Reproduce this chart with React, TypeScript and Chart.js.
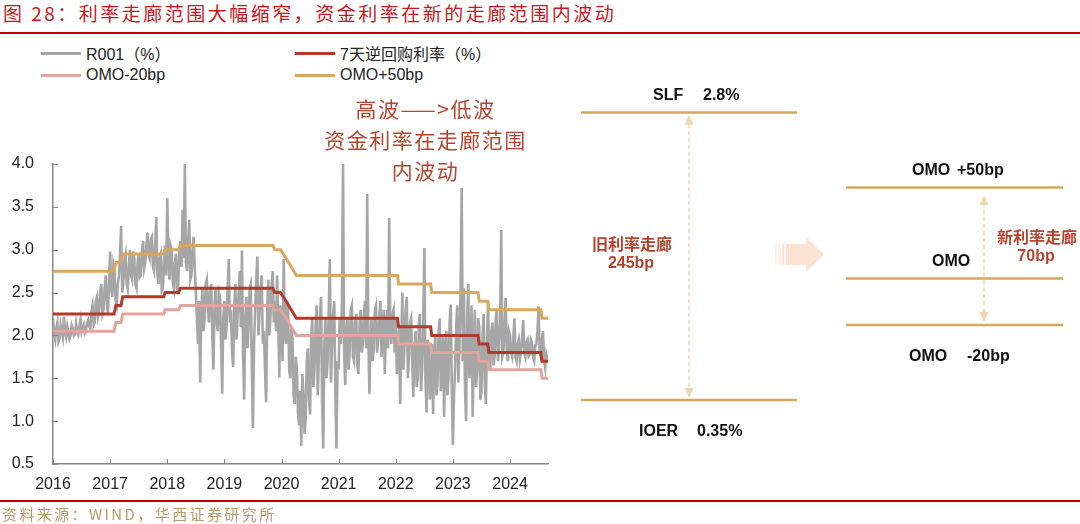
import React, { useEffect, useRef } from "react";
import { Chart, registerables } from "chart.js";

Chart.register(...registerables);

// ---------- data ----------
const xStart = 2016;
const xEnd = 2024.67;
const yearTicks = [2016, 2017, 2018, 2019, 2020, 2021, 2022, 2023, 2024];
const yTicks = [0.5, 1.0, 1.5, 2.0, 2.5, 3.0, 3.5, 4.0];

// R001, read about weekly (1/52 year) from Jan 2016
const r001Step = 1 / 52;
const r001_2016 = [
  2.2, 2.02, 1.95, 2.08, 2.15, 1.93, 1.97, 2.12, 2.05, 1.98, 2.22, 2.04, 1.98, 2.1, 2.03, 1.96, 2.0, 2.12, 2.08, 2.0, 2.02, 2.14, 2.05, 2.01, 2.1, 2.18,
  2.04, 2.08, 2.12, 2.03, 2.06, 2.15, 2.18, 2.1, 2.08, 2.28, 2.35, 2.12, 2.15, 2.4, 2.45, 2.22, 2.28, 2.52, 2.6, 2.25, 2.3, 2.55, 2.7, 2.38, 2.25, 2.62,
];
const r001_2017 = [
  2.98, 2.55, 2.45, 2.82, 2.75, 2.4, 2.35, 2.6, 2.7, 2.95, 3.28, 2.5, 2.6, 2.88, 2.95, 2.62, 2.55, 2.8, 3.0, 2.7, 2.65, 2.98, 2.9, 2.6, 2.55, 2.85,
  2.95, 2.68, 2.7, 3.0, 3.1, 2.78, 2.85, 3.05, 3.2, 2.95, 2.9, 3.12, 3.15, 2.8, 2.75, 3.05, 3.38, 2.7, 2.6, 2.9, 2.95, 2.52, 2.55, 2.88, 3.05, 2.7,
];
const r001_2018 = [
  3.6, 2.9, 2.65, 3.05, 3.0, 2.62, 2.55, 2.85, 2.95, 2.48, 2.6, 2.98, 3.1, 2.8, 3.47, 2.9, 4.0, 2.85, 2.75, 3.1, 3.35, 2.65, 2.7, 3.0, 3.15, 2.8,
  2.5, 2.2, 1.9, 2.4, 1.45, 2.3, 2.55, 2.05, 2.2, 2.6, 2.65, 2.3, 2.15, 2.5, 2.6, 2.0, 1.6, 2.35, 2.55, 2.15, 2.05, 2.5, 2.45, 1.9, 1.32, 2.2,
];
const r001_2019 = [
  2.4, 1.95, 2.1, 2.55, 2.89, 2.15, 2.3, 1.8, 1.63, 2.35, 2.6, 1.95, 2.2, 2.5, 2.75, 2.1, 2.99, 1.8, 1.25, 2.2, 2.45, 1.85, 2.1, 2.55, 2.6, 1.6,
  0.92, 1.9, 2.3, 2.65, 2.92, 2.0, 2.25, 2.55, 2.7, 1.9, 2.05, 1.6, 1.22, 2.3, 2.65, 2.0, 2.25, 2.6, 2.75, 2.15, 2.4, 2.05, 2.7, 2.2, 1.51, 2.35,
];
const r001_2020 = [
  2.2, 1.7, 2.89, 2.05, 1.9, 2.4, 2.3, 1.6, 1.5, 2.1, 1.95, 1.3, 1.2, 1.75, 1.6, 1.1, 0.95, 1.35, 0.71, 1.55, 1.3, 0.85, 1.05, 1.7, 1.85, 1.25,
  1.08, 1.95, 2.2, 1.4, 1.6, 2.1, 2.35, 1.3, 1.75, 2.25, 2.45, 1.2, 0.68, 1.9, 2.2, 1.5, 1.7, 2.3, 2.89, 1.45, 1.9, 2.25, 2.4, 1.35, 0.68, 1.7,
];
const r001_2021 = [
  1.6, 2.2, 1.9, 2.35, 4.0, 1.8, 1.42, 2.05, 2.2, 1.6, 1.8, 2.3, 2.35, 1.75, 1.7, 2.15, 2.25, 1.65, 1.55, 2.1, 2.3, 1.8, 1.9, 2.25, 2.4, 1.85,
  3.65, 2.0, 1.32, 1.95, 2.2, 1.7, 1.85, 2.3, 2.35, 1.8, 1.95, 2.2, 2.4, 1.75, 2.0, 2.3, 1.55, 2.1, 2.3, 1.85, 3.37, 2.05, 1.9, 2.25, 2.3, 1.8,
];
const r001_2022 = [
  2.2, 1.55, 1.7, 2.1, 1.2, 1.9, 2.5, 1.6, 1.9, 2.3, 2.45, 1.5, 1.75, 2.15, 2.2, 1.7, 1.28, 1.85, 2.05, 1.4, 1.5, 2.15, 2.25, 1.35, 1.6, 2.1,
  3.02, 1.5, 1.1, 1.95, 1.85, 1.25, 1.4, 1.9, 1.08, 1.75, 2.0, 1.3, 1.45, 2.05, 2.2, 1.35, 1.6, 2.0, 1.05, 1.8, 2.05, 1.3, 1.5, 2.15, 2.36, 1.4,
];
const r001_2023 = [
  0.72, 1.3, 1.6, 2.1, 2.35, 1.45, 1.9, 2.5, 3.72, 1.7, 2.55, 1.4, 1.0, 2.2, 2.6, 1.5, 1.7, 2.35, 1.05, 1.8, 2.3, 1.4, 1.55, 2.2, 2.1, 1.25,
  1.35, 2.0, 2.25, 1.45, 1.2, 1.9, 2.4, 1.7, 1.59, 2.05, 2.15, 1.65, 1.75, 2.2, 2.3, 1.7, 1.85, 2.15, 3.23, 1.75, 1.8, 2.1, 2.44, 1.85, 1.7, 2.05,
];
const r001_2024 = [
  2.0, 1.8, 1.75, 1.95, 2.2, 1.75, 1.7, 1.9, 1.95, 1.72, 1.8, 1.98, 2.18, 1.8, 1.75, 1.92, 1.95, 1.76, 1.78, 1.95, 1.92, 1.74, 1.7, 1.88, 1.9, 2.05,
  2.34, 1.8, 1.75, 1.95, 2.05, 1.7, 1.62, 1.78, 1.72,
];
const r001Values = [
  ...r001_2016, ...r001_2017, ...r001_2018, ...r001_2019, ...r001_2020,
  ...r001_2021, ...r001_2022, ...r001_2023, ...r001_2024,
];

// policy-rate change dates (decimal years) shared by the three step lines
const stepDates = [
  2016.0, 2017.07, 2017.1, 2017.19, 2017.22, 2017.94, 2017.96, 2018.2, 2018.23, 2019.85, 2019.88, 2019.98, 2020.08,
  2020.26, 2022.03, 2022.05, 2022.61, 2022.63, 2023.44, 2023.46, 2023.61, 2023.63, 2024.54, 2024.56, 2024.67,
];
const omoValues = [
  2.25, 2.25, 2.35, 2.35, 2.45, 2.45, 2.5, 2.5, 2.55, 2.55, 2.5, 2.5, 2.4, 2.2, 2.2, 2.1, 2.1, 2.0, 2.0, 1.9, 1.9, 1.8, 1.8, 1.7, 1.7,
];
const omoPlus50Values = [
  2.75, 2.75, 2.85, 2.85, 2.95, 2.95, 3.0, 3.0, 3.05, 3.05, 3.0, 3.0, 2.9, 2.7, 2.7, 2.6, 2.6, 2.5, 2.5, 2.4, 2.4, 2.3, 2.3, 2.2, 2.2,
];
const omoMinus20Values = [
  2.05, 2.05, 2.15, 2.15, 2.25, 2.25, 2.3, 2.3, 2.35, 2.35, 2.3, 2.3, 2.2, 2.0, 2.0, 1.9, 1.9, 1.8, 1.8, 1.7, 1.7, 1.6, 1.6, 1.5, 1.5,
];

const legendLabels = ["R001（%）", "7天逆回购利率（%）", "OMO-20bp", "OMO+50bp"];

// ---------- styles ----------
const GRAY = "#a6a6a6";
const RED = "#b13a2c";
const PINK = "#e2a49b";
const GOLD = "#d8a85e";
const AXIS = "#8a8a8a";
const TEXT = "#222222";
const TITLE_RED = "#c8161d";
const NOTE_RED = "#b5442f";
const LINE_GOLD = "#d6a65e";
const DASH = "#eed6b2";
const LATIN = '"Liberation Sans", Arial, "Noto Sans CJK SC", sans-serif';
const CJK = '"Noto Sans CJK SC", "Liberation Sans", sans-serif';

const innerTicks = {
  id: "innerTicks",
  afterDraw(chart: any) {
    const { ctx, chartArea, scales } = chart;
    ctx.save();
    ctx.strokeStyle = AXIS;
    ctx.lineWidth = 1;
    scales.y.ticks.forEach((t: any) => {
      const y = Math.round(scales.y.getPixelForValue(t.value)) + 0.5;
      ctx.beginPath();
      ctx.moveTo(chartArea.left, y);
      ctx.lineTo(chartArea.left + 5, y);
      ctx.stroke();
    });
    scales.x.ticks.forEach((t: any) => {
      const x = Math.round(scales.x.getPixelForValue(t.value)) + 0.5;
      ctx.beginPath();
      ctx.moveTo(x, chartArea.bottom);
      ctx.lineTo(x, chartArea.bottom - 5);
      ctx.stroke();
    });
    ctx.restore();
  },
};

function LegendItem({ x, y, color, label }: { x: number; y: number; color: string; label: string }) {
  return (
    <div style={{ position: "absolute", left: x, top: y - 10, height: 20, display: "flex", alignItems: "center" }}>
      <div style={{ width: 40, height: 3, background: color, marginRight: 5 }} />
      <span style={{ font: `16px ${LATIN}`, color: TEXT, whiteSpace: "nowrap" }}>{label}</span>
    </div>
  );
}

export default function App() {
  const ref = useRef<HTMLCanvasElement>(null);

  useEffect(() => {
    const canvas = ref.current!;
    const r001Points = r001Values.map((v, i) => ({ x: xStart + i * r001Step, y: v }));
    const mk = (vals: number[]) => stepDates.map((d, i) => ({ x: d, y: vals[i] }));
    const common = { pointRadius: 0, pointHoverRadius: 0, tension: 0, fill: false };
    const chart = new Chart(canvas, {
      type: "line",
      data: {
        datasets: [
          { ...common, label: legendLabels[1], data: mk(omoValues), borderColor: RED, borderWidth: 3 },
          { ...common, label: legendLabels[3], data: mk(omoPlus50Values), borderColor: GOLD, borderWidth: 3 },
          { ...common, label: legendLabels[2], data: mk(omoMinus20Values), borderColor: PINK, borderWidth: 3 },
          { ...common, label: legendLabels[0], data: r001Points, borderColor: GRAY, borderWidth: 2.6 },
        ],
      },
      options: {
        animation: false,
        responsive: false,
        events: [],
        layout: { padding: { top: 74, right: 11.7, left: 0, bottom: 0 } },
        plugins: { legend: { display: false }, tooltip: { enabled: false } },
        scales: {
          x: {
            type: "linear",
            min: xStart,
            max: xEnd,
            afterFit: (s: any) => {
              s.height = 36;
            },
            afterBuildTicks: (s: any) => {
              s.ticks = yearTicks.map((v) => ({ value: v }));
            },
            grid: { display: false, drawTicks: false },
            border: { display: true, color: AXIS, width: 1.5 },
            ticks: {
              padding: 11,
              autoSkip: false,
              maxRotation: 0,
              color: TEXT,
              font: { family: LATIN, size: 16 },
              callback: (v: any) => String(v),
            },
          },
          y: {
            min: 0.5,
            max: 4.0,
            afterFit: (s: any) => {
              s.width = 53;
            },
            afterBuildTicks: (s: any) => {
              s.ticks = yTicks.map((v) => ({ value: v }));
            },
            grid: { display: false, drawTicks: false },
            border: { display: true, color: AXIS, width: 1.5 },
            ticks: {
              padding: 19,
              color: TEXT,
              font: { family: LATIN, size: 16 },
              callback: (v: any) => Number(v).toFixed(1),
            },
          },
        },
      },
      plugins: [innerTicks],
    } as any);
    return () => chart.destroy();
  }, []);

  const boldLatin = { fontFamily: LATIN, fontWeight: 700, fontSize: 16 } as any;
  const boldCjk = { fontFamily: CJK, fontWeight: 700, fontSize: 16 } as any;

  return (
    <div style={{ position: "fixed", left: 0, top: 0, width: 1080, height: 524, background: "#fff", overflow: "hidden" }}>
      {/* title */}
      <div
        style={{
          position: "absolute",
          left: 3,
          top: 1,
          font: `19px/24px ${CJK}`,
          letterSpacing: "2.5px",
          color: TITLE_RED,
          whiteSpace: "nowrap",
        }}
      >
        图 28：利率走廊范围大幅缩窄，资金利率在新的走廊范围内波动
      </div>
      <div style={{ position: "absolute", left: 0, top: 32, width: 1080, height: 2, background: "#c00000" }} />

      {/* legend */}
      <LegendItem x={41} y={53} color={GRAY} label={legendLabels[0]} />
      <LegendItem x={295} y={53} color={RED} label={legendLabels[1]} />
      <LegendItem x={41} y={75} color={PINK} label={legendLabels[2]} />
      <LegendItem x={295} y={75} color={GOLD} label={legendLabels[3]} />

      {/* chart */}
      <canvas ref={ref} width={560} height={410} style={{ position: "absolute", left: 0, top: 90, width: 560, height: 410 }} />

      {/* annotation */}
      <div
        style={{
          position: "absolute",
          left: 304,
          top: 93,
          width: 240,
          textAlign: "center",
          font: `21px/31px ${CJK}`,
          letterSpacing: "1.5px",
          paddingLeft: 1.5,
          color: NOTE_RED,
          whiteSpace: "nowrap",
        }}
      >
        <div>高波——&gt;低波</div>
        <div>资金利率在走廊范围</div>
        <div>内波动</div>
      </div>

      {/* corridor diagram */}
      <svg width={1080} height={524} style={{ position: "absolute", left: 0, top: 0 }}>
        {/* old corridor */}
        <line x1={581} x2={797} y1={112.5} y2={112.5} stroke={LINE_GOLD} strokeWidth={2.5} />
        <line x1={581} x2={797} y1={400} y2={400} stroke={LINE_GOLD} strokeWidth={2.5} />
        <line x1={689} x2={689} y1={124} y2={389} stroke={DASH} strokeWidth={1.5} strokeDasharray="4 3" />
        <polygon points="689,115 684.5,125 693.5,125" fill={DASH} />
        <polygon points="689,398 684.5,388 693.5,388" fill={DASH} />
        <text x={653} y={94} dominantBaseline="central" style={boldLatin} fill="#111">SLF</text>
        <text x={703} y={94} dominantBaseline="central" style={boldLatin} fill="#111">2.8%</text>
        <text x={639} y={430} dominantBaseline="central" style={boldLatin} fill="#111">IOER</text>
        <text x={697} y={430} dominantBaseline="central" style={boldLatin} fill="#111">0.35%</text>
        <text x={632} y={243} textAnchor="middle" dominantBaseline="central" style={boldCjk} fill={NOTE_RED}>旧利率走廊</text>
        <text x={631} y={262} textAnchor="middle" dominantBaseline="central" style={boldLatin} fill={NOTE_RED}>245bp</text>

        {/* big arrow */}
        <rect x={775} y={244} width={2} height={21} fill="#fdf0e7" />
        <rect x={778.5} y={244} width={2} height={21} fill="#fcebdf" />
        <rect x={782} y={244} width={2.5} height={21} fill="#fbe6d8" />
        <rect x={786} y={244} width={20} height={21} fill="#fbe3d3" />
        <polygon points="806,237 824,254.5 806,272" fill="#fbe3d3" />

        {/* new corridor */}
        <line x1={846} x2={1063} y1={187.5} y2={187.5} stroke={LINE_GOLD} strokeWidth={2.5} />
        <line x1={846} x2={1063} y1={278.5} y2={278.5} stroke={LINE_GOLD} strokeWidth={2.5} />
        <line x1={846} x2={1063} y1={325} y2={325} stroke={LINE_GOLD} strokeWidth={2.5} />
        <line x1={984} x2={984} y1={203} y2={315} stroke={DASH} strokeWidth={1.5} strokeDasharray="4 3" />
        <polygon points="984,195 979.5,205 988.5,205" fill={DASH} />
        <polygon points="984,322 979.5,312 988.5,312" fill={DASH} />
        <text x={912} y={169} dominantBaseline="central" style={boldLatin} fill="#111">OMO</text>
        <text x={957} y={169} dominantBaseline="central" style={boldLatin} fill="#111">+50bp</text>
        <text x={932} y={260} dominantBaseline="central" style={boldLatin} fill="#111">OMO</text>
        <text x={909} y={355} dominantBaseline="central" style={boldLatin} fill="#111">OMO</text>
        <text x={967} y={355} dominantBaseline="central" style={boldLatin} fill="#111">-20bp</text>
        <text x={1037} y={236} textAnchor="middle" dominantBaseline="central" style={boldCjk} fill={NOTE_RED}>新利率走廊</text>
        <text x={1036} y={255} textAnchor="middle" dominantBaseline="central" style={boldLatin} fill={NOTE_RED}>70bp</text>
      </svg>

      {/* source */}
      <div style={{ position: "absolute", left: 0, top: 500, width: 1080, height: 2, background: "#c00000" }} />
      <div
        style={{
          position: "absolute",
          left: 2,
          top: 504,
          font: `15px/19px ${CJK}`,
          letterSpacing: "2.4px",
          color: "#bc9a66",
          whiteSpace: "nowrap",
        }}
      >
        资料来源：WIND，华西证券研究所
      </div>
    </div>
  );
}
